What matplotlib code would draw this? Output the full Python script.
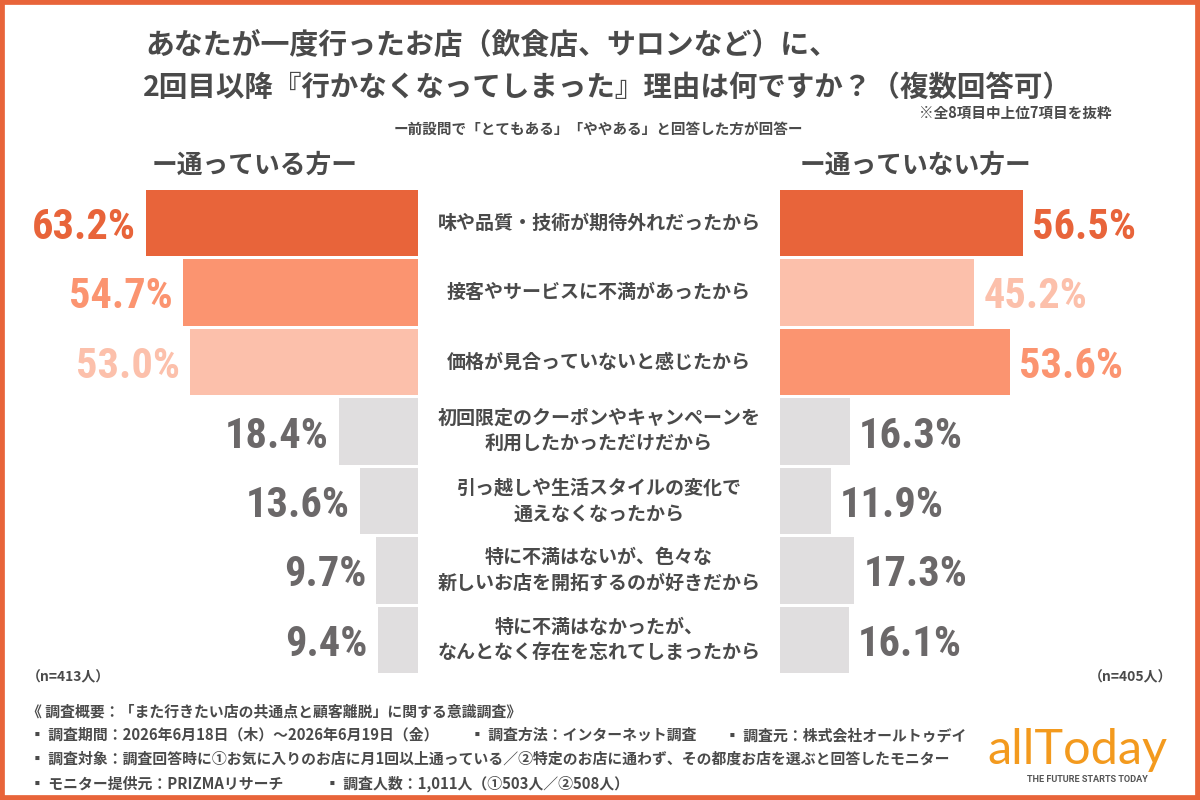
import matplotlib
matplotlib.use("Agg")
import matplotlib.pyplot as plt
from matplotlib import font_manager
from matplotlib.transforms import blended_transform_factory
from matplotlib.patches import Rectangle

# ---------------- data ----------------
categories = [
    "味や品質・技術が期待外れだったから",
    "接客やサービスに不満があったから",
    "価格が見合っていないと感じたから",
    "初回限定のクーポンやキャンペーンを\n利用したかっただけだから",
    "引っ越しや生活スタイルの変化で\n通えなくなったから",
    "特に不満はないが、色々な\n新しいお店を開拓するのが好きだから",
    "特に不満はなかったが、\nなんとなく存在を忘れてしまったから",
]
left_vals = [63.2, 54.7, 53.0, 18.4, 13.6, 9.7, 9.4]
right_vals = [56.5, 45.2, 53.6, 16.3, 11.9, 17.3, 16.1]
left_header = "ー通っている方ー"
right_header = "ー通っていない方ー"
left_n = "（n=413人）"
right_n = "（n=405人）"

title1 = "あなたが一度行ったお店（飲食店、サロンなど）に、"
title2 = "2回目以降『行かなくなってしまった』理由は何ですか？（複数回答可）"
note = "※全8項目中上位7項目を抜粋"
subtitle = "ー前設問で「とてもある」「ややある」と回答した方が回答ー"
footer = [
    "《 調査概要：「また行きたい店の共通点と顧客離脱」に関する意識調査》",
    "▪ 調査期間：2026年6月18日（木）～2026年6月19日（金）",
    "▪ 調査方法：インターネット調査",
    "▪ 調査元：株式会社オールトゥデイ",
    "▪ 調査対象：調査回答時に①お気に入りのお店に月1回以上通っている／②特定のお店に通わず、その都度お店を選ぶと回答したモニター",
    "▪ モニター提供元：PRIZMAリサーチ",
    "▪ 調査人数：1,011人（①503人／②508人）",
]

# ---------------- style ----------------
ORANGE_D = "#e8643a"
ORANGE_M = "#fb9470"
ORANGE_L = "#fcc0ab"
GRAY_BAR = "#e0dedf"
GRAY_NUM = "#6b6869"
TEXT = "#4a4a4a"

left_colors = [ORANGE_D, ORANGE_M, ORANGE_L] + [GRAY_BAR] * 4
right_colors = [ORANGE_D, ORANGE_L, ORANGE_M] + [GRAY_BAR] * 4

def num_color(c):
    return GRAY_NUM if c == GRAY_BAR else c

available = {f.name for f in font_manager.fontManager.ttflist}
num_font = "DejaVu Sans"
for cand in ["Liberation Sans Narrow", "DejaVu Sans Condensed", "Roboto Condensed", "Roboto"]:
    if cand in available:
        num_font = cand
        break

JP = ["Noto Sans CJK JP", "DejaVu Sans"]
plt.rcParams["font.family"] = JP

W, H = 1200, 800
fig = plt.figure(figsize=(12, 8), dpi=100)
fig.patch.set_facecolor("white")

def fx(px):
    return px / W

def fy(py):
    return 1 - py / H

# axes geometry (pixels)
scale = 4.30  # px per percent
row0 = 223.0
pitch = 69.5
n = len(categories)
top_px = row0 - pitch / 2
bot_px = row0 + (n - 0.5) * pitch
left_edge = 418
right_edge = 780

axL = fig.add_axes([0, fy(bot_px), fx(left_edge), (bot_px - top_px) / H])
axR = fig.add_axes([fx(right_edge), fy(bot_px), 1 - fx(right_edge), (bot_px - top_px) / H])
axL.set_xlim(left_edge / scale, 0)
axR.set_xlim(0, (W - right_edge) / scale)
for ax in (axL, axR):
    ax.set_ylim(n - 0.5, -0.5)
    ax.axis("off")

ys = list(range(n))
axL.barh(ys, left_vals, height=0.95, color=left_colors, edgecolor="none")
axR.barh(ys, right_vals, height=0.95, color=right_colors, edgecolor="none")

NUM_FS = 30.5
for y, v, c in zip(ys, left_vals, left_colors):
    axL.text(v + 10 / scale, y, f"{v:.1f}%", ha="right", va="center_baseline",
             fontsize=NUM_FS, fontweight="bold", family=num_font, color=num_color(c))
for y, v, c in zip(ys, right_vals, right_colors):
    axR.text(v + 9 / scale, y, f"{v:.1f}%", ha="left", va="center_baseline",
             fontsize=NUM_FS, fontweight="bold", family=num_font, color=num_color(c))

tr = blended_transform_factory(fig.transFigure, axL.transData)
for y, lab in zip(ys, categories):
    axL.text(fx(599), y, lab, transform=tr, ha="center", va="center",
             fontsize=13.7, fontweight="bold", color=TEXT, linespacing=1.45,
             clip_on=False)

# titles
fig.text(fx(145), fy(45), title1, ha="left", va="center", fontsize=20.8,
         fontweight="bold", color=TEXT)
fig.text(fx(143), fy(88), title2, ha="left", va="center", fontsize=20.5,
         fontweight="bold", color=TEXT)
fig.text(fx(1112), fy(113), note, ha="right", va="center", fontsize=10.5,
         fontweight="bold", color=TEXT)
fig.text(fx(598), fy(129), subtitle, ha="center", va="center", fontsize=10.5,
         fontweight="bold", color=TEXT)
fig.text(fx(255), fy(165), left_header, ha="center", va="center", fontsize=18.5,
         fontweight="bold", color=TEXT)
fig.text(fx(915), fy(165), right_header, ha="center", va="center", fontsize=18.5,
         fontweight="bold", color=TEXT)

fig.text(fx(27), fy(677), left_n, ha="left", va="center", fontsize=10,
         fontweight="bold", color=TEXT)
fig.text(fx(1172), fy(677), right_n, ha="right", va="center", fontsize=10,
         fontweight="bold", color=TEXT)

# footer
fs = 10.7
fig.text(fx(27), fy(711), footer[0], ha="left", va="center", fontsize=fs, fontweight="bold", color=TEXT)
fig.text(fx(30), fy(735), footer[1], ha="left", va="center", fontsize=fs, fontweight="bold", color=TEXT)
fig.text(fx(470), fy(735), footer[2], ha="left", va="center", fontsize=fs, fontweight="bold", color=TEXT)
fig.text(fx(725), fy(735), footer[3], ha="left", va="center", fontsize=fs, fontweight="bold", color=TEXT)
fig.text(fx(30), fy(759), footer[4], ha="left", va="center", fontsize=fs, fontweight="bold", color=TEXT)
fig.text(fx(30), fy(784), footer[5], ha="left", va="center", fontsize=fs, fontweight="bold", color=TEXT)
fig.text(fx(325), fy(784), footer[6], ha="left", va="center", fontsize=fs, fontweight="bold", color=TEXT)

# logo
fig.text(fx(1077), fy(750), "allToday", ha="center", va="center", fontsize=35,
         family=["Lato", "DejaVu Sans"], color="#f39a1e")
fig.text(fx(1087), fy(779), "THE FUTURE STARTS TODAY", ha="center", va="center",
         fontsize=6.6, fontweight="bold", family=["Roboto", "DejaVu Sans"], color="#555555")

# frame
fig.patches.append(Rectangle((0, 0), 1, 1, transform=fig.transFigure, fill=False,
                             edgecolor=ORANGE_D, linewidth=7, zorder=10))

fig.savefig("out.png", dpi=100, facecolor="white")
